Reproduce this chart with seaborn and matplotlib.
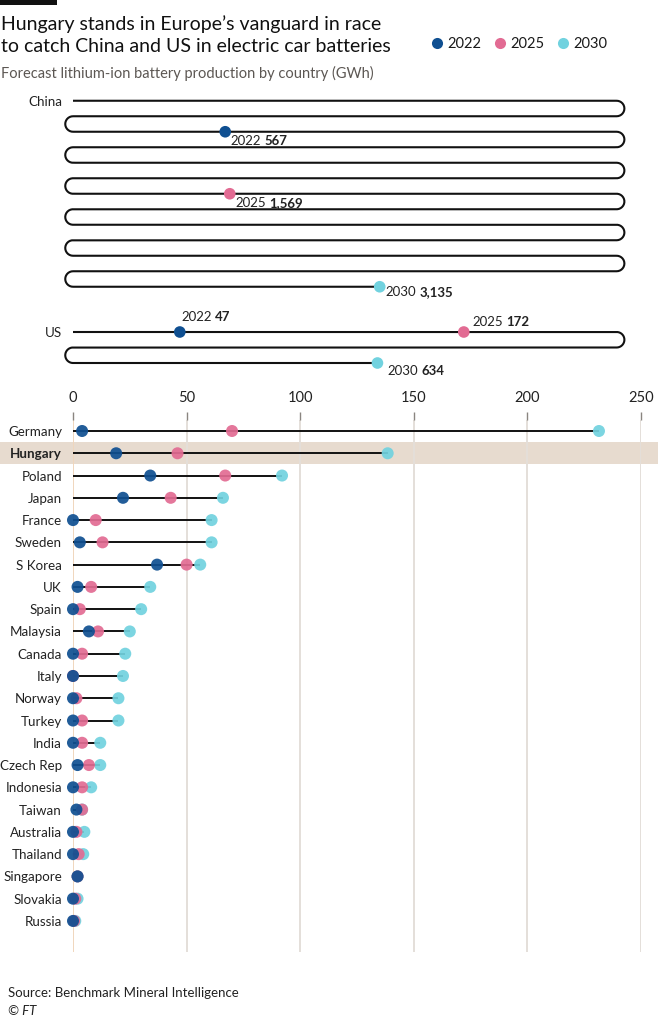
import numpy as np
import pandas as pd
import seaborn as sns
import matplotlib.pyplot as plt
from matplotlib.lines import Line2D
from matplotlib.patches import Rectangle
from matplotlib.transforms import blended_transform_factory

# ---- data (GWh) ----
years = ['2022', '2025', '2030']
colours = {'2022': '#0f4f91', '2025': '#e26b93', '2030': '#71d2df'}

china = [567, 1569, 3135]
us = [47, 172, 634]

countries = ['Germany', 'Hungary', 'Poland', 'Japan', 'France', 'Sweden', 'S Korea',
             'UK', 'Spain', 'Malaysia', 'Canada', 'Italy', 'Norway', 'Turkey', 'India',
             'Czech Rep', 'Indonesia', 'Taiwan', 'Australia', 'Thailand', 'Singapore',
             'Slovakia', 'Russia']
gwh_2022 = [4, 19, 34, 22, 0, 3, 37, 2, 0, 7, 0, 0, 0, 0, 0, 2, 0, 1.5, 0, 0, 2, 0, 0]
gwh_2025 = [70, 46, 67, 43, 10, 13, 50, 8, 3, 11, 4, 0, 1.5, 4, 4, 7, 4, 4, 1.5, 2.5, 2, 1, 0.5]
gwh_2030 = [231.5, 138.5, 92, 66, 61, 61, 56, 34, 30, 25, 23, 22, 20, 20, 12, 12, 8, 4, 5, 4.5, 2, 2, 1]

W, H = 658, 1025
XMAX = 250
PX_PER_GWH = 568 / XMAX


def fx(px):
    return px / W


def fy(py):
    return 1 - py / H


sns.set_theme(style='white')
plt.rcParams['font.family'] = ['Lato', 'DejaVu Sans']
plt.rcParams['text.color'] = '#1a1a1a'

fig = plt.figure(figsize=(W / 100, H / 100), dpi=100)
fig.patch.set_facecolor('white')

# ---- snake geometry: a value runs along a path that folds every 250 GWh ----
R = 7.75 / PX_PER_GWH          # turn radius in GWh units
STRAIGHT = XMAX - np.pi * R


def snake_xy(v):
    v = np.asarray(v, float)
    k = np.floor(v / XMAX)
    t = v - k * XMAX
    odd = (k % 2) == 1
    a = np.clip((t - STRAIGHT) / R, 0, np.pi)
    x_line = np.where(odd, STRAIGHT - t, t)
    x_turn = np.where(odd, -R * np.sin(a), STRAIGHT + R * np.sin(a))
    on_line = t <= STRAIGHT
    x = np.where(on_line, x_line, x_turn)
    y = np.where(on_line, k, k + 0.5 - 0.5 * np.cos(a))
    return x, y


def snake_panel(ax, vals, name, label_offsets):
    path = np.linspace(0, max(vals), 4000)
    px, py = snake_xy(path)
    ax.plot(px, py, color='#111111', lw=1.5, solid_capstyle='butt', zorder=1, clip_on=False)
    mx, my = snake_xy(vals)
    d = pd.DataFrame({'x': mx, 'y': my, 'year': years})
    sns.scatterplot(data=d, x='x', y='y', hue='year', palette=colours, s=70,
                    linewidth=0, legend=False, ax=ax, zorder=3, clip_on=False)
    for (x, y, yr, v), off in zip(zip(mx, my, years, vals), label_offsets):
        t1 = ax.annotate(yr, (x, y), xytext=off, textcoords='offset points',
                         fontsize=9.5, va='center', ha='left', color='#222222')
        ax.annotate(f'{v:,}', xy=(1, 0.5), xycoords=t1, xytext=(2.5, 0),
                    textcoords='offset points', va='center', ha='left',
                    fontsize=9.5, fontweight='bold', color='#222222')
    ax.set_xlim(0, XMAX)
    ax.set_yticks([0], [name])
    ax.set_xticks([])
    ax.tick_params(axis='y', length=0, pad=8, labelsize=9.6, labelcolor='#222222')
    ax.set_xlabel('')
    ax.set_ylabel('')
    sns.despine(ax=ax, left=True, bottom=True)
    ax.patch.set_alpha(0)


ax_cn = fig.add_axes([fx(73), fy(93 + 201.5), 568 / W, 201.5 / H])
ax_cn.set_ylim(12.5, -0.5)
snake_panel(ax_cn, china, 'China', [(4, -6.5), (4, -6.5), (4, -4)])

ax_us = fig.add_axes([fx(73), fy(324.25 + 46.5), 568 / W, 46.5 / H])
ax_us.set_ylim(2.5, -0.5)
snake_panel(ax_us, us, 'US', [(1, 11), (6, 7.5), (7, -6)])

# ---- main dumbbell chart ----
ax = fig.add_axes([fx(73), fy(952), 568 / W, (952 - 420) / H])
n = len(countries)
rows = np.arange(n)
ax.set_ylim((952 - 431) / 22.27, -11 / 22.27)
ax.set_xlim(0, XMAX)

ends = np.max([gwh_2022, gwh_2025, gwh_2030], axis=0)
ax.hlines(rows, 0, ends, color='#111111', lw=1.4, zorder=2)

long = pd.DataFrame({
    'country': countries * 3,
    'row': np.tile(rows, 3),
    'year': np.repeat(years[::-1], n),
    'gwh': gwh_2030 + gwh_2025 + gwh_2022,
})
sns.scatterplot(data=long, x='gwh', y='row', hue='year', palette=colours, s=75,
                linewidth=0, alpha=0.92, legend=False, ax=ax, zorder=3, clip_on=False)

ax.set_yticks(rows, countries)
for lab in ax.get_yticklabels():
    if lab.get_text() == 'Hungary':
        lab.set_fontweight('bold')
ax.tick_params(axis='y', length=0, pad=8, labelsize=9.6, labelcolor='#222222')

ax.xaxis.tick_top()
ax.set_xticks(range(0, XMAX + 1, 50))
ax.tick_params(axis='x', length=6, width=1, color='#8a8580', pad=5,
               labelsize=10.5, labelcolor='#222222')
ax.grid(axis='x', color='#e4dfd9', lw=1.4)
ax.grid(axis='y', visible=False)
ax.xaxis.get_gridlines()[0].set_color('#f0d6bd')
ax.set_axisbelow(True)
ax.set_xlabel('')
ax.set_ylabel('')
sns.despine(ax=ax, left=True, bottom=True, top=True, right=True)

# highlight band for Hungary across the full width
band = Rectangle((0, 0.5), 1, 1, transform=blended_transform_factory(fig.transFigure, ax.transData),
                 facecolor='#e7dbcf', edgecolor='none', zorder=0.3, clip_on=False)
ax.add_patch(band)

# ---- titles, legend, source ----
fig.patches.append(Rectangle((0, fy(4.5)), fx(57), 4.5 / H, transform=fig.transFigure,
                             facecolor='#111111', edgecolor='none'))
fig.text(fx(1), fy(35), 'Hungary stands in Europe\u2019s vanguard in race\nto catch China and US in electric car batteries',
         fontsize=14, va='center', ha='left', linespacing=1.3, color='#111111')
fig.text(fx(1), fy(73), 'Forecast lithium-ion battery production by country (GWh)',
         fontsize=10.5, va='center', ha='left', color='#5c5753')

handles = [Line2D([], [], marker='o', ls='', markersize=8, markerfacecolor=colours[y],
                  markeredgewidth=0) for y in years]
fig.legend(handles, years, loc='center left', bbox_to_anchor=(fx(428), fy(44)), ncol=3,
           frameon=False, handletextpad=0.1, columnspacing=0.7, handlelength=1.2,
           fontsize=10.5, borderaxespad=0, borderpad=0)

fig.text(fx(8), fy(993), 'Source: Benchmark Mineral Intelligence', fontsize=9.5,
         va='center', ha='left', color='#222222')
fig.text(fx(8), fy(1011), '\u00a9 FT', fontsize=9.5, va='center', ha='left',
         color='#222222', style='italic')

fig.savefig('out.png', dpi=100)
